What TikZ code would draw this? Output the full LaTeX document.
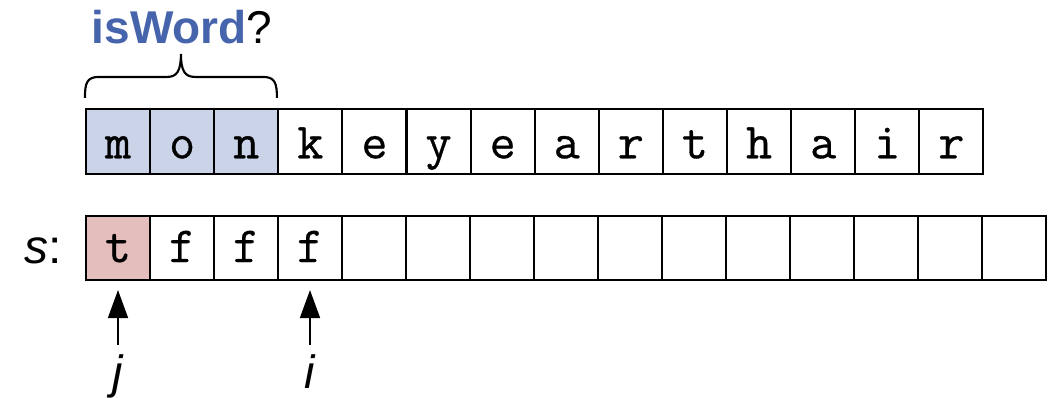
\documentclass[tikz,border=0pt]{standalone}
\usepackage{fontspec}
\setsansfont{Liberation Sans}
\newfontfamily\cellfont[AutoFakeBold=0.6]{Latin Modern Mono}
\usetikzlibrary{arrows.meta,calc}
\definecolor{wordblue}{RGB}{70,100,172}
\definecolor{cellblue}{RGB}{202,211,232}
\definecolor{cellred}{RGB}{228,189,189}
\begin{document}
\begin{tikzpicture}[x=0.75pt,y=-0.75pt,
  cellbase/.style={draw,line width=1.6pt,minimum width=48.075pt,inner sep=0pt,
    font=\cellfont\bfseries\fontsize{38}{38}\selectfont,text depth=0pt},
  topcell/.style={cellbase,minimum height=48.75pt,text height=25.2pt},
  botcell/.style={cellbase,minimum height=48pt,text height=21pt},
  ptr/.style={line width=1.3pt,-{Triangle[length=21pt,width=15pt]},shorten >=6.75pt},
  varlab/.style={font=\sffamily\itshape\fontsize{35}{35}\selectfont,anchor=base,inner sep=0pt},
  bracepath/.style={line width=1.6pt}]
\useasboundingbox (0,0) rectangle (1053,397);
% top row
\foreach \c [count=\k] in {m,o,n,k,e,y,e,a,r,t,h,a,i,r} {
  \ifnum\k<4 \def\cf{cellblue}\else\def\cf{white}\fi
  \node[topcell,fill=\cf] (t\k) at ({86+64.1*(\k-0.5)},141.5) {\c};
}
% bottom row
\foreach \k in {1,...,15} {
  \ifnum\k=1 \def\cf{cellred}\else\def\cf{white}\fi
  \node[botcell,fill=\cf] (b\k) at ({86+64*(\k-0.5)},248) {\ifcase\k\or t\or f\or f\or f\else\fi};
}
% brace
\begin{scope}[shift={(t1.north west)}]
\draw[bracepath] (0,-10) .. controls (0,-25) and (2,-31) .. (14,-31) -- (82,-31)
  .. controls (92,-31) and (96,-37) .. (96,-54)
  .. controls (96,-37) and (100,-31) .. (110,-31) -- (178,-31)
  .. controls (190,-31) and (192,-25) .. (192,-10);
\end{scope}
% label
\node[anchor=base,inner sep=0pt,font=\sffamily\fontsize{34.5}{34.5}\selectfont] (lab)
  at ($(t2.north)+(0,-64)$) {\textcolor{wordblue}{\bfseries isWord}?};
% s:
\node[anchor=base east,inner sep=0pt,font=\sffamily\fontsize{36}{36}\selectfont] (slab)
  at ($(b1.west)+(-23,15)$) {\textit{s}:};
% pointers
\node[varlab] (jl) at ($(b1.south)+(0,107)$) {j};
\node[varlab] (il) at ($(b4.south)+(0,107)$) {i};
\coordinate (ja) at ($(b1.south)+(0,64)$);
\coordinate (ia) at ($(b4.south)+(0,64)$);
\draw[ptr] (ja) -- (b1.south);
\draw[ptr] (ia) -- (b4.south);
\end{tikzpicture}
\end{document}
